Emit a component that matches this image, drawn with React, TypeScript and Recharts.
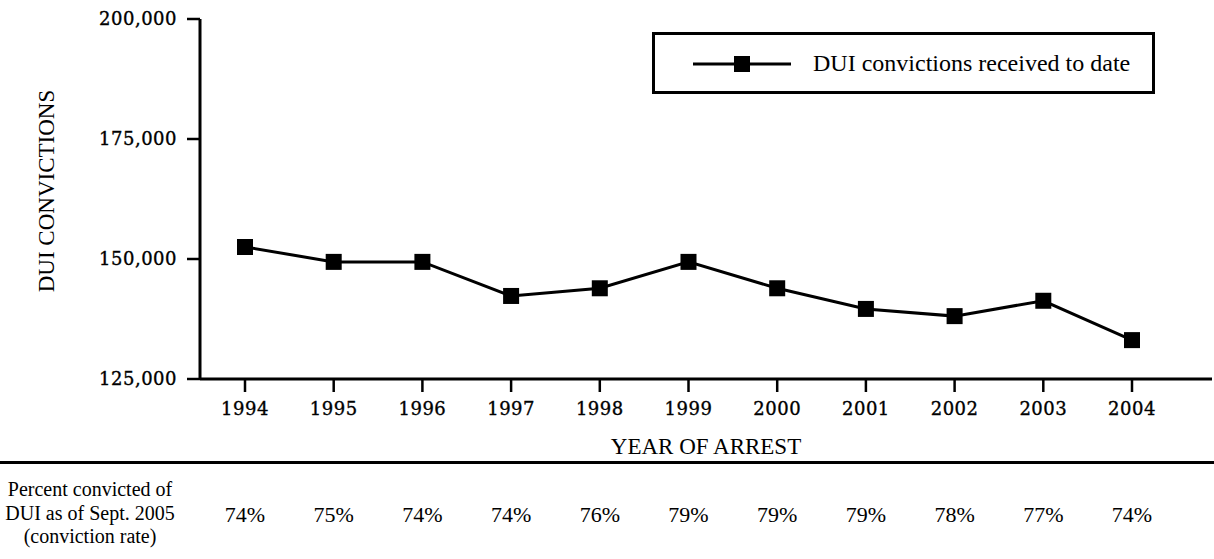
import React from 'react';
import { LineChart, Line, XAxis, YAxis, Legend } from 'recharts';

const years = ['1994', '1995', '1996', '1997', '1998', '1999', '2000', '2001', '2002', '2003', '2004'];
const convictions = [152500, 149400, 149400, 142300, 143900, 149400, 143900, 139600, 138100, 141300, 133100];
const rates = [74, 75, 74, 74, 76, 79, 79, 79, 78, 77, 74];
const yTicks = [125000, 150000, 175000, 200000];

const data = years.map((year, i) => ({ year, convictions: convictions[i] }));

const serif = '"Liberation Serif", "Times New Roman", serif';
const tickFont = '"DejaVu Serif", serif';
const tickStyle = {
  fill: '#000',
  stroke: '#000',
  strokeWidth: 0.35,
  fontFamily: tickFont,
  fontSize: 18,
  letterSpacing: 0.5,
};

const SquareDot = (props: any) => {
  const { cx, cy, index } = props;
  if (cx == null || cy == null) return null;
  return <rect key={`dot-${index}`} x={cx - 8} y={cy - 8} width={16} height={16} fill="#000" />;
};

const YLabel = ({ viewBox }: any) => {
  const cy = viewBox.y + viewBox.height / 2 - 8;
  return (
    <text
      x={46}
      y={cy}
      transform={`rotate(-90, 46, ${cy})`}
      textAnchor="middle"
      dominantBaseline="central"
      fontFamily={serif}
      fontSize={23}
      fill="#000"
    >
      DUI CONVICTIONS
    </text>
  );
};

const XLabel = ({ viewBox }: any) => (
  <text
    x={viewBox.x + viewBox.width / 2}
    y={viewBox.y + 67}
    textAnchor="middle"
    dominantBaseline="central"
    fontFamily={serif}
    fontSize={23}
    fill="#000"
  >
    YEAR OF ARREST
  </text>
);

const LegendBox = () => (
  <div
    style={{
      width: 503,
      height: 62,
      border: '3px solid #000',
      boxSizing: 'border-box',
      background: '#fff',
      position: 'relative',
      fontFamily: serif,
    }}
  >
    <svg width={140} height={56} style={{ position: 'absolute', left: 0, top: 0 }}>
      <line x1={38} y1={29} x2={136} y2={29} stroke="#000" strokeWidth={3} />
      <rect x={79} y={21} width={16} height={16} fill="#000" />
    </svg>
    <span
      style={{
        position: 'absolute',
        left: 158,
        top: 0,
        lineHeight: '56px',
        fontSize: 24,
        color: '#000',
        whiteSpace: 'nowrap',
      }}
    >
      DUI convictions received to date
    </span>
  </div>
);

export default function App() {
  return (
    <div style={{ position: 'absolute', left: 0, top: 0, width: 1214, height: 559, background: '#fff' }}>
      <LineChart width={1214} height={559} data={data} margin={{ top: 19, right: 2, left: 0, bottom: 0 }}>
        <XAxis
          dataKey="year"
          padding={{ left: 45, right: 80 }}
          height={83}
          tickSize={13}
          tickMargin={10}
          axisLine={{ stroke: '#000', strokeWidth: 3 }}
          tickLine={{ stroke: '#000', strokeWidth: 2.5 }}
          tick={tickStyle}
          label={<XLabel />}
        />
        <XAxis
          xAxisId="rate"
          dataKey="year"
          padding={{ left: 45, right: 80 }}
          height={97}
          tickSize={0}
          tickMargin={44}
          axisLine={false}
          tickLine={false}
          tickFormatter={(_v: any, i: number) => `${rates[i]}%`}
          tick={{ fill: '#000', fontFamily: serif, fontSize: 22 }}
        />
        <YAxis
          width={200}
          domain={[125000, 200000]}
          ticks={yTicks}
          tickSize={13}
          tickMargin={10}
          axisLine={{ stroke: '#000', strokeWidth: 3 }}
          tickLine={{ stroke: '#000', strokeWidth: 2.5 }}
          tick={tickStyle}
          tickFormatter={(v: number) => v.toLocaleString('en-US')}
          label={<YLabel />}
        />
        <Legend
          layout="vertical"
          align="center"
          verticalAlign="middle"
          wrapperStyle={{ top: 32, left: 652, width: 503 }}
          content={() => <LegendBox />}
        />
        <Line
          type="linear"
          dataKey="convictions"
          stroke="#000"
          strokeWidth={3}
          dot={SquareDot}
          activeDot={false}
          isAnimationActive={false}
        />
      </LineChart>
      <div style={{ position: 'absolute', left: 0, top: 461, width: 1214, height: 3, background: '#000' }} />
      <div
        style={{
          position: 'absolute',
          left: 0,
          top: 478,
          width: 180,
          textAlign: 'center',
          fontFamily: serif,
          fontSize: 20,
          lineHeight: '23.5px',
          color: '#000',
        }}
      >
        Percent convicted of
        <br />
        DUI as of Sept. 2005
        <br />
        (conviction rate)
      </div>
    </div>
  );
}
